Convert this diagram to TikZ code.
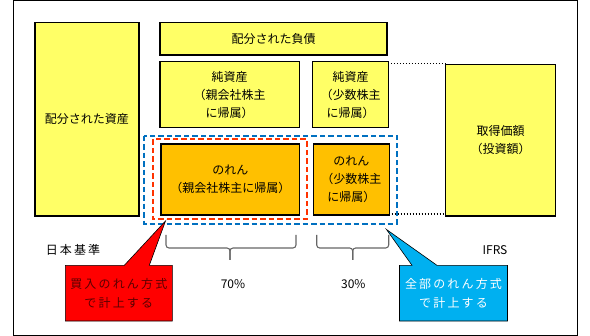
\documentclass[tikz,border=0pt]{standalone}
\usepackage{fontspec}
\setmainfont{Noto Sans CJK JP}
\newfontfamily\jpwide[LetterSpace=18]{Noto Sans CJK JP}
\usetikzlibrary{shapes.callouts,calc}
\definecolor{boxyellow}{HTML}{FFFF66}
\definecolor{boxorange}{HTML}{FFC000}
\definecolor{dashred}{HTML}{FF3300}
\definecolor{dashblue}{HTML}{0070C0}
\definecolor{calloutblue}{HTML}{00B0F0}
\definecolor{darkredtext}{HTML}{5A0000}
\begin{document}
\begin{tikzpicture}[x=1pt,y=-1pt,
  every node/.style={font=\fontsize{12}{18}\selectfont, inner sep=0pt, align=center},
  ybox/.style={draw=black, line width=1.4pt, fill=boxyellow},
  obox/.style={draw=black, line width=1.4pt, fill=boxorange},
  dotline/.style={line width=1.6pt, dash pattern=on 1.5pt off 1.5pt},
  dashframe/.style={line width=2pt, dash pattern=on 5.5pt off 3pt},
  bracepath/.style={draw=gray!80!black, line width=1.1pt, rounded corners=3pt},
  calloutbox/.style={rectangle callout, draw=black, line width=0.6pt,
    callout pointer width=25pt, minimum width=107pt, minimum height=55.7pt,
    font=\jpwide\fontsize{12}{19}\selectfont},
  lbl/.style={font=\fontsize{12}{14}\selectfont}
]
\useasboundingbox (0,0) rectangle (590,336);
\draw[line width=0.9pt] (13,0.6) rectangle (577,335);

\node[ybox, minimum width=104pt, minimum height=193.3pt] (a) at (87,119.35) {配分された資産};
\node[ybox, minimum width=227pt, minimum height=32.3pt] (l) at (273.5,38.85) {配分された負債};
\node[ybox, minimum width=139.3pt, minimum height=66pt] (np) at (229.6,94.7) {純資産\\（親会社株主\\に帰属）};
\node[ybox, minimum width=76pt, minimum height=66pt] (nm) at (350.7,94.7) {純資産\\（少数株主\\に帰属）};
\node[ybox, minimum width=110pt, minimum height=151.7pt] (cost) at (500.7,140.2) {取得価額\\（投資額）};
\node[obox, minimum width=138.5pt, minimum height=71pt] (gp) at (230.25,179.6) {のれん\\（親会社株主に帰属）};
\node[obox, minimum width=76pt, minimum height=71pt] (gm) at (351.3,179.6) {のれん\\（少数株主\\に帰属）};

\draw[dashframe, draw=dashred] (152.7,139.3) rectangle (306.7,219);
\draw[dashframe, draw=dashblue] (144,135.7) rectangle (397.3,223.7);

\draw[dotline] (nm.north east |- cost.north west) ++(1.5,0) -- (cost.north west);
\coordinate (d1) at ($(gm.south east)+(1.5,-1.8)$);
\draw[dotline] (d1) -- (d1 -| cost.west);

\draw[bracepath] (166,235) -- (166,248) -- (230,248) -- (230,260);
\draw[bracepath] (296,235) -- (296,248) -- (230,248) -- (230,260);
\draw[bracepath] (316.7,235) -- (316.7,248) -- (352.7,248) -- (352.7,260);
\draw[bracepath] (388.7,235) -- (388.7,248) -- (352.7,248) -- (352.7,260);

\node[lbl] (p70) at (233,284) {70\%};
\node[lbl] (p30) at (353.3,284) {30\%};
\node[lbl, font=\jpwide\fontsize{12}{14}\selectfont] (jp) at (73,250) {日本基準};
\node[lbl] (ifrs) at (495,250) {IFRS};

\node[calloutbox, fill=red, text=darkredtext, callout absolute pointer={(165.5,221)}] (cr) at (118.8,293.2) {買入のれん方式\\ で計上する};
\node[calloutbox, fill=calloutblue, text=white, minimum width=108pt, callout absolute pointer={(386.5,229.5)}] (cb) at (453.5,293.2) {全部のれん方式\\ で計上する};
\end{tikzpicture}
\end{document}
